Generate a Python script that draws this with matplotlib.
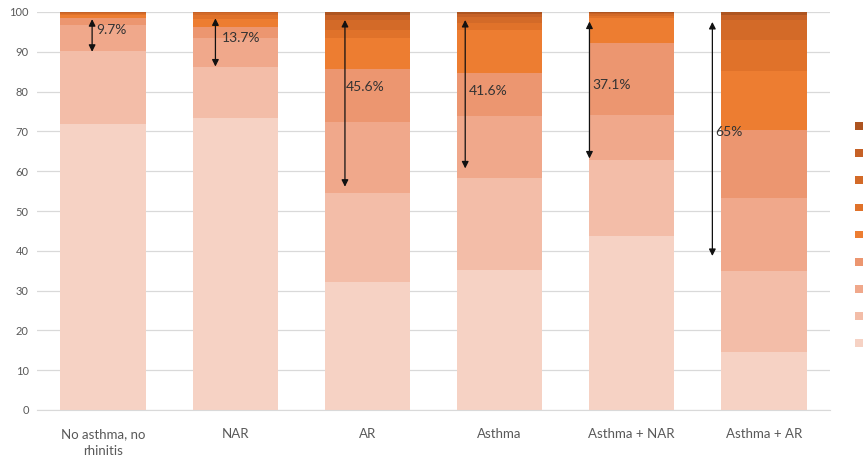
import matplotlib
matplotlib.use('Agg')
import matplotlib.pyplot as plt
import numpy as np

# groups on the x axis
groups = ['No asthma, no\nrhinitis', 'NAR', 'AR', 'Asthma', 'Asthma + NAR', 'Asthma + AR']

# percentage of each score category (0 = bottom, 8 = top) per group
cat0 = [71.8, 73.3, 32.2, 35.2, 43.8, 14.6]
cat1 = [18.5, 13.0, 22.2, 23.2, 19.1, 20.2]
cat2 = [6.5, 7.1, 18.0, 15.5, 11.2, 18.4]
cat3 = [1.7, 2.8, 13.2, 10.7, 18.0, 17.2]
cat4 = [0.7, 2.0, 7.8, 10.9, 6.3, 14.9]
cat5 = [0.4, 1.0, 2.1, 1.7, 0.6, 7.7]
cat6 = [0.2, 0.5, 2.5, 1.5, 0.5, 5.0]
cat7 = [0.1, 0.2, 1.2, 0.8, 0.3, 1.2]
cat8 = [0.1, 0.1, 0.8, 0.5, 0.2, 0.8]
categories = ['0', '1', '2', '3', '4', '5', '6', '7', '8']

# bracket annotations: share above the lower categories
pct_labels = ['9.7%', '13.7%', '45.6%', '41.6%', '37.1%', '65%']
arrow_top = [98.2, 98.4, 98.0, 98.0, 97.6, 97.5]
arrow_bottom = [90.0, 86.3, 56.1, 60.7, 63.2, 38.7]
label_y = [95.5, 93.5, 81.2, 80.2, 81.7, 69.8]

colors = ['#F6D2C4', '#F3BDA8', '#F0A88B', '#EC9670', '#ED7D31',
          '#E0722A', '#D36A28', '#C66126', '#AD5420']

plt.rcParams['font.family'] = ['Lato', 'DejaVu Sans']

fig = plt.figure(figsize=(8.64, 4.57), dpi=100)
ax = fig.add_axes([37 / 864, 1 - 410 / 457, 793 / 864, 398 / 457])

x = np.arange(len(groups))
width = 0.645
bottom = np.zeros(len(groups))
handles = []
for vals, c, name in zip([cat0, cat1, cat2, cat3, cat4, cat5, cat6, cat7, cat8], colors, categories):
    b = ax.bar(x, vals, width, bottom=bottom, color=c, label=name, zorder=2)
    handles.append(b)
    bottom += np.array(vals)

arrow_dx = [-0.083, -0.15, -0.17, -0.26, -0.32, -0.39]
text_dx = [-0.05, -0.10, -0.16, -0.23, -0.30, -0.37]
for i in range(len(groups)):
    ax.annotate('', xy=(x[i] + arrow_dx[i], arrow_top[i]), xytext=(x[i] + arrow_dx[i], arrow_bottom[i]),
                arrowprops=dict(arrowstyle='<|-|>', color='#111111', lw=0.9, mutation_scale=10,
                                shrinkA=0, shrinkB=0), zorder=5)
    ax.text(x[i] + text_dx[i], label_y[i], pct_labels[i], fontsize=10, color='#333333',
            va='center', ha='left', zorder=6)

ax.set_xlim(-0.5, len(groups) - 0.5)
ax.set_ylim(0, 100)
ax.set_yticks(np.arange(0, 101, 10))
ax.set_xticks(x)
ax.set_xticklabels(groups, fontsize=9.5, color='#595959', linespacing=1.45)
ax.tick_params(axis='y', labelsize=8, labelcolor='#595959', length=0, pad=6)
ax.tick_params(axis='x', length=0, pad=13)
ax.grid(axis='y', color='#D9D9D9', lw=0.9, zorder=0)
for s in ['top', 'right', 'left']:
    ax.spines[s].set_visible(False)
ax.spines['bottom'].set_color('#D9D9D9')

fig.legend(handles[::-1], categories[::-1], loc='upper left',
           bbox_to_anchor=(845 / 864, 1 - 111 / 457), frameon=False,
           fontsize=8, handlelength=0.7, handleheight=0.7, labelspacing=1.45,
           handletextpad=0.5, labelcolor='#595959')

fig.savefig('out.png', dpi=100)
